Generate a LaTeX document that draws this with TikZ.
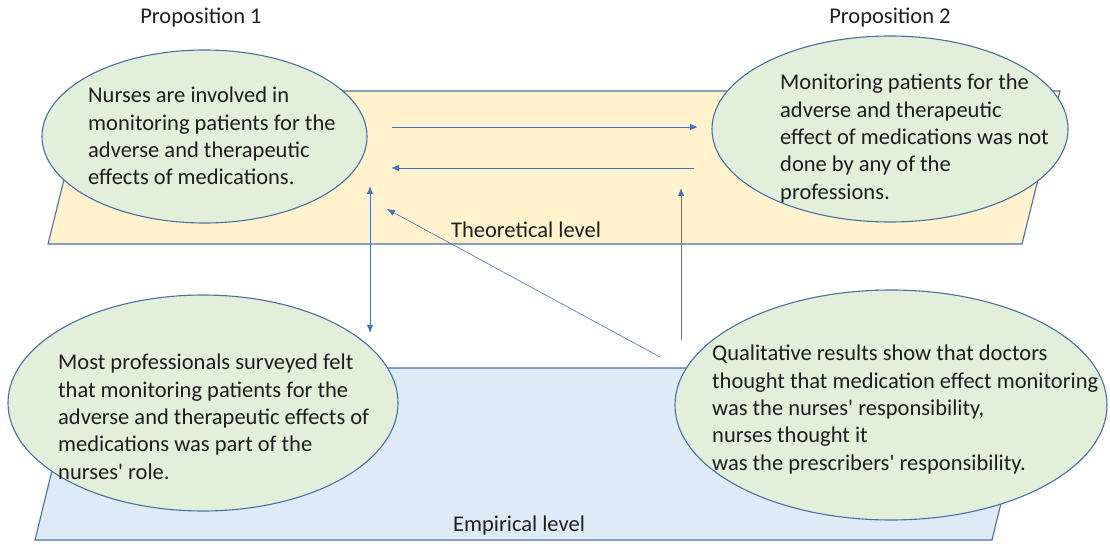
\documentclass[tikz,border=0pt]{standalone}
\usepackage{fontspec}
\setmainfont{Carlito}[Ligatures=TeXOff]
\usetikzlibrary{shapes.geometric,arrows.meta}
\definecolor{planeY}{HTML}{FFF2CC}
\definecolor{planeB}{HTML}{DEEBF7}
\definecolor{ellF}{HTML}{E2EFDA}
\definecolor{edgeC}{HTML}{4A6FA5}
\definecolor{arrC}{HTML}{4472C4}
\definecolor{txtC}{HTML}{1E1E1E}
\tikzset{
  plane/.style={draw=edgeC, line width=1.1pt},
  bubble/.style={ellipse, draw=edgeC, fill=ellF, line width=1.1pt, inner sep=0pt},
  btext/.style={anchor=north west, align=left, inner sep=0pt, text=txtC, font=\fontsize{22.5}{27.3}\selectfont},
  lbl/.style={text=txtC, inner sep=0pt, font=\fontsize{22.5}{26}\selectfont},
  conn/.style={draw=arrC, line width=0.9pt, -{Latex[length=8pt,width=6.5pt]}},
  conn2/.style={draw=arrC, line width=0.9pt, {Latex[length=8pt,width=6.5pt]}-{Latex[length=8pt,width=6.5pt]}},
}
\begin{document}
\begin{tikzpicture}[x=1pt,y=-1pt]
\useasboundingbox (0,0) rectangle (1110,545);
\fill[white] (0,0) rectangle (1110,545);
% planes
\draw[plane, fill=planeY] (86,91) -- (1060,91) -- (1022,244) -- (48,244) -- cycle;
\draw[plane, fill=planeB] (77,368) -- (1034,368) -- (992,540) -- (35,540) -- cycle;
\node[lbl] (theo) at (526,230) {Theoretical level};
\node[lbl] (emp) at (519,525) {Empirical level};
\node[lbl] (p1) at (201,18) {Proposition 1};
\node[lbl] (p2) at (890,18) {Proposition 2};
% ellipses
\node[bubble, minimum width=325pt, minimum height=173pt] (e1) at (204.5,136.5) {};
\node[bubble, minimum width=356pt, minimum height=186pt] (e2) at (890,129) {};
\node[bubble, minimum width=390pt, minimum height=216pt] (e3) at (203,403) {};
\node[bubble, minimum width=432pt, minimum height=230pt] (e4) at (891,405) {};
\node[btext] (t1) at (88,87) {Nurses are involved in\\monitoring patients for the\\adverse and therapeutic\\effects of medications.};
\node[btext] (t2) at (780,74) {Monitoring patients for the\\adverse and therapeutic\\effect of medications was not\\done by any of the\\professions.};
\node[btext] (t3) at (58,354) {Most professionals surveyed felt\\that monitoring patients for the\\adverse and therapeutic effects of\\medications was part of the\\nurses' role.};
\node[btext] (t4) at (712,345) {Qualitative results show that doctors\\thought that medication effect monitoring\\was the nurses' responsibility,\\nurses thought it\\was the prescribers' responsibility.};
% connector anchors
\coordinate (a1s) at (392,127);
\coordinate (a1e) at (698,127);
\coordinate (a2s) at (694,168);
\coordinate (a2e) at (391,168);
\coordinate (a3s) at (370,186);
\coordinate (a3e) at (370,333);
\coordinate (a4s) at (681,340);
\coordinate (a4e) at (681,188);
\coordinate (a5s) at (660,357);
\coordinate (a5e) at (387,209);
\draw[conn] (a1s) -- (a1e);
\draw[conn] (a2s) -- (a2e);
\draw[conn2] (a3s) -- (a3e);
\draw[conn] (a4s) -- (a4e);
\draw[conn, line width=0.6pt] (a5s) -- (a5e);
\end{tikzpicture}
\end{document}
